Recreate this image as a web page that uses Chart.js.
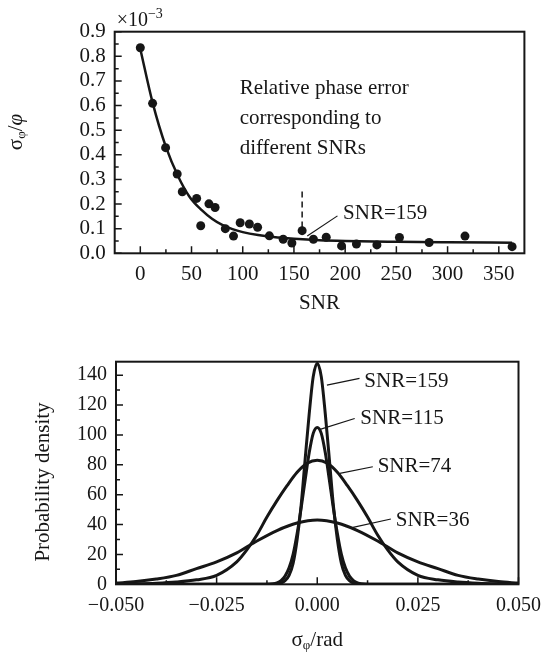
<!DOCTYPE html>
<html>
<head>
<meta charset="utf-8">
<script src="https://cdn.jsdelivr.net/npm/chart.js@4.4.0/dist/chart.umd.min.js"></script>
<style>
  body { margin: 0; background: #fff; }
  .box { position: absolute; left: 0; width: 550px; }
  #top { top: 0; height: 330px; }
  #bot { top: 330px; height: 324px; }
</style>
</head>
<body>
<div class="box" id="top"><canvas id="errChart"></canvas></div>
<div class="box" id="bot"><canvas id="pdfChart"></canvas></div>
<script>
// ---- top chart: relative phase error vs SNR ----
const snrPoints = [0, 12, 24.7, 36, 41, 55, 59, 67, 73, 83, 91, 97.5, 106.5, 114.5, 126, 139.5, 148, 158, 169, 181.5, 196.5, 211, 231, 253, 282, 317, 363];
const errPoints = [0.835, 0.609, 0.429, 0.322, 0.250, 0.223, 0.112, 0.201, 0.186, 0.100, 0.070, 0.124, 0.119, 0.106, 0.071, 0.057, 0.042, 0.092, 0.057, 0.065, 0.030, 0.038, 0.034, 0.064, 0.044, 0.070, 0.027];
const fitSnr = [0, 12, 25, 37, 48, 60, 70, 80, 90, 100, 115, 130, 150, 175, 200, 250, 300, 363];
const fitErr = [0.830, 0.612, 0.432, 0.312, 0.230, 0.175, 0.140, 0.115, 0.098, 0.086, 0.074, 0.066, 0.059, 0.053, 0.050, 0.047, 0.045, 0.043];
const markSnr = [158, 158];          // dashed marker at SNR=159
const markErr = [0.105, 0.255];
const arrowSnr = [163, 192.5];       // leader to the "SNR=159" note
const arrowErr = [0.070, 0.152];
const snrTicks = [0, 50, 100, 150, 200, 250, 300, 350];
const errTicks = [0, 0.1, 0.2, 0.3, 0.4, 0.5, 0.6, 0.7, 0.8, 0.9];
const noteLines = ['Relative phase error', 'corresponding to', 'different SNRs'];

// ---- bottom chart: probability density of the phase error ----
const phase159 = [-0.05, -0.012, -0.01, -0.009, -0.008, -0.007, -0.006, -0.005, -0.004, -0.003, -0.002, -0.001, 0, 0.001, 0.002, 0.003, 0.004, 0.005, 0.006, 0.007, 0.008, 0.009, 0.01, 0.012, 0.05];
const dens159  = [0, 0, 0.2, 0.8, 2.5, 6, 14, 30, 53, 84, 114, 139, 148, 139, 114, 84, 53, 30, 14, 6, 2.5, 0.8, 0.2, 0, 0];
const phase115 = [-0.05, -0.013, -0.011, -0.01, -0.009, -0.008, -0.007, -0.006, -0.005, -0.004, -0.003, -0.002, -0.001, 0, 0.001, 0.002, 0.003, 0.004, 0.005, 0.006, 0.007, 0.008, 0.009, 0.01, 0.011, 0.013, 0.05];
const dens115  = [0, 0, 0.3, 1, 2.5, 5.5, 11, 20, 34, 51, 70, 88, 101, 105, 101, 88, 70, 51, 34, 20, 11, 5.5, 2.5, 1, 0.3, 0, 0];
const phase74  = [-0.05, -0.045, -0.04, -0.035, -0.03, -0.025, -0.02, -0.0175, -0.015, -0.0125, -0.01, -0.0075, -0.005, -0.0025, 0, 0.0025, 0.005, 0.0075, 0.01, 0.0125, 0.015, 0.0175, 0.02, 0.025, 0.03, 0.035, 0.04, 0.045, 0.05];
const dens74   = [0.1, 0.3, 0.7, 1.5, 3, 6, 15, 23, 33, 45, 56, 66, 75, 81, 83, 81, 75, 66, 56, 45, 33, 23, 15, 6, 3, 1.5, 0.7, 0.3, 0.1];
const phase36  = [-0.05, -0.045, -0.04, -0.035, -0.03, -0.025, -0.02, -0.015, -0.01, -0.005, 0, 0.005, 0.01, 0.015, 0.02, 0.025, 0.03, 0.035, 0.04, 0.045, 0.05];
const dens36   = [0.8, 1.8, 3.5, 6, 10.5, 15, 21, 29, 36, 41, 43, 41, 36, 29, 21, 15, 10.5, 6, 3.5, 1.8, 0.8];
const curveLabels = ['SNR=159', 'SNR=115', 'SNR=74', 'SNR=36'];
const leadX0 = [0.0024, 0.0007, 0.0056, 0.0089];
const leadY0 = [133.3, 103.7, 74.2, 38.1];
const leadX1 = [0.0105, 0.0093, 0.0138, 0.0183];
const leadY1 = [137.8, 111.0, 78.7, 43.7];
const labelX = [0.0117, 0.0107, 0.0150, 0.0195];
const labelY = [135.5, 111.0, 79.0, 43.0];
const phaseTicks = [-0.05, -0.025, 0, 0.025, 0.05];
const densTicks = [0, 20, 40, 60, 80, 100, 120, 140];

const INK = '#161616';
const SERIF = '"Liberation Serif", "Times New Roman", serif';

function pts(xs, ys) { return xs.map((v, i) => ({ x: v, y: ys[i] })); }

function curve(xs, ys, w) {
    return { type: 'line', data: pts(xs, ys), borderColor: INK, borderWidth: w,
             pointRadius: 0, cubicInterpolationMode: 'monotone', fill: false };
}

// text made of pieces: [text, size, dy, italic]
function rich(ctx, parts, x, y, align) {
    let w = 0;
    parts.forEach(p => { ctx.font = (p[3] ? 'italic ' : '') + p[1] + 'px ' + SERIF; w += ctx.measureText(p[0]).width; });
    let xx = align === 'left' ? x : x - w / 2;
    ctx.textAlign = 'left';
    ctx.textBaseline = 'middle';
    parts.forEach(p => {
        ctx.font = (p[3] ? 'italic ' : '') + p[1] + 'px ' + SERIF;
        ctx.fillText(p[0], xx, y + p[2]);
        xx += ctx.measureText(p[0]).width;
    });
}

// box + inward major/minor ticks on the bottom and left axes
function drawFrame(chart) {
    const { ctx, chartArea: a, scales: { x, y } } = chart;
    ctx.save();
    ctx.strokeStyle = INK;
    ctx.lineWidth = 1.5;
    ctx.beginPath();
    const tx = x.ticks.map(t => t.value), ty = y.ticks.map(t => t.value);
    tx.forEach((v, i) => {
        const p = x.getPixelForValue(v);
        ctx.moveTo(p, a.bottom); ctx.lineTo(p, a.bottom - 7);
        if (i < tx.length - 1) {
            const m = x.getPixelForValue((v + tx[i + 1]) / 2);
            ctx.moveTo(m, a.bottom); ctx.lineTo(m, a.bottom - 4);
        }
    });
    ty.forEach((v, i) => {
        const p = y.getPixelForValue(v);
        ctx.moveTo(a.left, p); ctx.lineTo(a.left + 7, p);
        if (i < ty.length - 1) {
            const m = y.getPixelForValue((v + ty[i + 1]) / 2);
            ctx.moveTo(a.left, m); ctx.lineTo(a.left + 4, m);
        }
    });
    ctx.stroke();
    ctx.lineWidth = 2;
    ctx.strokeRect(a.left, a.top, a.right - a.left, a.bottom - a.top);
    ctx.restore();
}

function axisOpts(ticks, fmt, fit, size, extra) {
    return Object.assign({
        type: 'linear',
        grid: { display: false, drawTicks: false },
        border: { display: false },
        afterBuildTicks: s => { s.ticks = ticks.map(v => ({ value: v })); },
        afterFit: fit,
        ticks: { color: INK, font: { family: SERIF, size: size }, padding: 9, autoSkip: false, maxRotation: 0, callback: fmt }
    }, extra);
}

const topPlugin = {
    id: 'topDecor',
    afterDatasetsDraw(chart) {
        const { ctx, chartArea: a, scales: { x, y } } = chart;
        drawFrame(chart);
        ctx.save();
        ctx.fillStyle = INK;
        // note text
        noteLines.forEach((t, i) => rich(ctx, [[t, 21, 0]], x.getPixelForValue(97), y.getPixelForValue(0.67) + i * 30, 'left'));
        rich(ctx, [['SNR=159', 21, 0]], x.getPixelForValue(198), y.getPixelForValue(0.162), 'left');
        // multiplier
        rich(ctx, [['\u00d710', 20, 0], ['\u22123', 14, -6]], a.left + 2, a.top - 11, 'left');
        // axis titles
        rich(ctx, [['SNR', 21, 0]], (a.left + a.right) / 2, 303);
        ctx.translate(16, 132);
        ctx.rotate(-Math.PI / 2);
        rich(ctx, [['\u03c3', 21, 0], ['\u03c6', 13, 6], ['/', 21, 0], ['\u03c6', 21, 0, true]], 0, 0);
        ctx.restore();
    }
};

const botPlugin = {
    id: 'botDecor',
    afterDatasetsDraw(chart) {
        const { ctx, chartArea: a, scales: { x, y } } = chart;
        drawFrame(chart);
        ctx.save();
        ctx.fillStyle = INK;
        curveLabels.forEach((t, i) => rich(ctx, [[t, 21, 0]], x.getPixelForValue(labelX[i]), y.getPixelForValue(labelY[i]), 'left'));
        rich(ctx, [['\u03c3', 21, 0], ['\u03c6', 13, 6], ['/rad', 21, 0]], (a.left + a.right) / 2, 310);
        ctx.translate(43, 152);
        ctx.rotate(-Math.PI / 2);
        rich(ctx, [['Probability density', 21, 0]], 0, 0);
        ctx.restore();
    }
};

Chart.defaults.animation = false;

new Chart(document.getElementById('errChart'), {
    type: 'scatter',
    data: {
        datasets: [
            { data: pts(snrPoints, errPoints), pointRadius: 4.5, backgroundColor: INK, borderWidth: 0 },
            curve(fitSnr, fitErr, 2.5),
            Object.assign(curve(markSnr, markErr, 1.5), { borderDash: [6, 4], cubicInterpolationMode: 'default' }),
            Object.assign(curve(arrowSnr, arrowErr, 1.2), { cubicInterpolationMode: 'default' })
        ]
    },
    options: {
        responsive: true, maintainAspectRatio: false,
        layout: { padding: { top: 31.7, right: 25.6, left: 0, bottom: 0 } },
        plugins: { legend: { display: false }, tooltip: { enabled: false } },
        scales: {
            x: axisOpts(snrTicks, v => String(v), s => { s.height = 76.7; }, 21, { min: -25, max: 375 }),
            y: axisOpts(errTicks, v => v.toFixed(1), s => { s.width = 114.7; }, 21, { min: 0, max: 0.9 })
        }
    },
    plugins: [topPlugin]
});

const leaders = curveLabels.map((t, i) =>
    Object.assign(curve([leadX0[i], leadX1[i]], [leadY0[i], leadY1[i]], 1.2), { cubicInterpolationMode: 'default' }));

new Chart(document.getElementById('pdfChart'), {
    type: 'scatter',
    data: {
        datasets: [
            curve(phase159, dens159, 3),
            curve(phase115, dens115, 3),
            curve(phase74, dens74, 3),
            curve(phase36, dens36, 3)
        ].concat(leaders)
    },
    options: {
        responsive: true, maintainAspectRatio: false,
        layout: { padding: { top: 31.7, right: 25.4, left: 0, bottom: 0 } },
        plugins: { legend: { display: false }, tooltip: { enabled: false } },
        scales: {
            x: axisOpts(phaseTicks, v => (v < 0 ? '\u2212' : '') + Math.abs(v).toFixed(3), s => { s.height = 69.7; }, 20, { min: -0.05, max: 0.05 }),
            y: axisOpts(densTicks, v => String(v), s => { s.width = 116; }, 20, { min: 0, max: 149 })
        }
    },
    plugins: [botPlugin]
});
</script>
</body>
</html>
